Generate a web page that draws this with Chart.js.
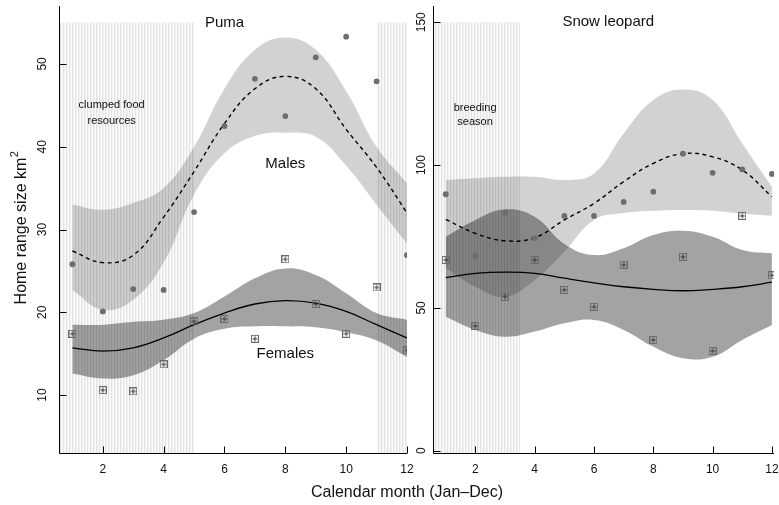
<!DOCTYPE html>
<html>
<head>
<meta charset="utf-8">
<script src="https://cdn.jsdelivr.net/npm/chart.js@4.4.1/dist/chart.umd.min.js"></script>
<style>
  html, body { margin: 0; padding: 0; background: #fff; }
  #wrap { position: relative; width: 779px; height: 505px; }
  #wrap canvas { position: absolute; left: 0; top: 0; }
</style>
</head>
<body>
<div id="wrap">
  <canvas id="puma" width="779" height="505"></canvas>
  <canvas id="snow" width="779" height="505"></canvas>
</div>
<script>
// ─── DATA ────────────────────────────────────────────────────
const months = [1, 2, 3, 4, 5, 6, 7, 8, 9, 10, 11, 12];
const xTicks = [2, 4, 6, 8, 10, 12];
const pumaYTicks = [10, 20, 30, 40, 50];
const snowYTicks = [0, 50, 100, 150];

// Puma
const pumaMalePts     = [25.8, 20.1, 22.8, 22.7, 32.1, 42.5, 48.2, 43.7, 50.8, 53.3, 47.9, 26.9];
const pumaFemalePts   = [17.4, 10.6, 10.45, 13.7, 18.9, 19.2, 16.8, 26.4, 21.0, 17.4, 23.0, 15.4];
const pumaMaleFit     = [27.4, 26.0, 26.9, 31.5, 37.0, 42.8, 47.0, 48.5, 47.0, 42.1, 37.5, 32.0];
const pumaMaleUpper   = [33.0, 32.4, 33.2, 35.0, 40.0, 47.0, 51.7, 53.2, 51.7, 46.7, 40.0, 35.6];
const pumaMaleLower   = [22.7, 20.3, 21.5, 26.0, 34.2, 39.2, 41.3, 41.7, 41.2, 37.7, 33.0, 28.3];
const pumaFemaleFit   = [15.7, 15.3, 15.7, 16.9, 18.5, 19.9, 21.0, 21.4, 21.1, 20.1, 18.5, 16.9];
const pumaFemaleUpper = [18.5, 18.5, 18.85, 19.1, 19.9, 21.9, 24.1, 25.3, 24.5, 22.3, 19.9, 19.1];
const pumaFemaleLower = [12.6, 12.0, 12.4, 14.2, 16.8, 18.0, 18.3, 18.3, 18.2, 17.6, 16.6, 14.6];
const pumaShaded      = [[0.56, 5], [11, 12]];   // clumped food resources

// Snow leopard
const snowMalePts     = [89.8, 68.2, 83.3, 74.4, 82.2, 82.2, 87.1, 90.7, 104.0, 97.3, 98.5, 96.9];
const snowFemalePts   = [66.8, 43.7, 53.9, 66.8, 56.3, 50.4, 65.1, 38.8, 67.9, 34.9, 82.2, 61.4];
const snowMaleFit     = [81.0, 76.1, 73.5, 74.6, 80.8, 86.6, 94.2, 100.6, 104.0, 102.9, 98.3, 88.9];
const snowMaleUpper   = [94.8, 95.4, 95.9, 95.9, 94.8, 97.1, 111.1, 122.8, 126.5, 122.8, 107.6, 92.4];
const snowMaleLower   = [64.0, 57.4, 53.9, 59.8, 69.7, 80.8, 83.2, 84.0, 84.3, 84.0, 83.0, 82.3];
const snowFemaleFit   = [60.6, 62.1, 62.5, 62.1, 60.4, 58.8, 57.4, 56.5, 56.0, 56.5, 57.4, 59.0];
const snowFemaleUpper = [74.9, 80.8, 84.5, 81.9, 72.4, 68.5, 70.9, 75.5, 77.0, 74.9, 70.3, 69.1];
const snowFemaleLower = [46.9, 42.3, 39.9, 41.7, 44.6, 45.8, 42.3, 36.4, 32.4, 32.9, 38.8, 44.0];
const snowShaded      = [[0.57, 3.5]];            // breeding season

// ─── HELPERS ─────────────────────────────────────────────────
const FONT = '"Liberation Sans", Arial, Helvetica, sans-serif';
const xy = vals => months.map((m, i) => ({ x: m, y: vals[i] }));

function hatchPattern() {
    const c = document.createElement('canvas');
    c.width = 3; c.height = 4;
    const g = c.getContext('2d');
    g.fillStyle = '#fbfbfb'; g.fillRect(0, 0, 3, 4);
    g.fillStyle = '#e2e2e2'; g.fillRect(0, 0, 1, 4);
    g.fillStyle = '#f3f3f3'; g.fillRect(1, 0, 1, 4);
    return g.createPattern(c, 'repeat');
}

function squarePlus() {
    const c = document.createElement('canvas');
    c.width = 8; c.height = 8;
    const g = c.getContext('2d');
    g.strokeStyle = '#6a6a6a'; g.lineWidth = 1;
    g.strokeRect(0.5, 0.5, 7, 7);
    g.strokeStyle = '#333';
    g.beginPath();
    g.moveTo(4, 1.5); g.lineTo(4, 6.5);
    g.moveTo(1.5, 4); g.lineTo(6.5, 4);
    g.stroke();
    return c;
}

const HATCH = hatchPattern();
const SQUARE = squarePlus();
const NONE = 'rgba(0,0,0,0)';
const CURVE = { tension: 0.42, cubicInterpolationMode: 'default' };

function buildDatasets(d, shaded, top) {
    const ds = [];
    shaded.forEach(([a, b]) => ds.push({
        data: [{ x: a, y: top }, { x: b, y: top }],
        fill: 'start', backgroundColor: HATCH,
        borderColor: NONE, borderWidth: 0, pointRadius: 0, order: 9
    }));
    const band = (up, lo, col) => {
        ds.push({ data: xy(up), fill: '+1', backgroundColor: col,
                  borderColor: NONE, borderWidth: 0, pointRadius: 0,
                  ...CURVE, order: 8 });
        ds.push({ data: xy(lo), fill: false,
                  borderColor: NONE, borderWidth: 0, pointRadius: 0,
                  ...CURVE, order: 8 });
    };
    band(d.maleUp, d.maleLo, 'rgba(0,0,0,0.175)');
    band(d.femUp, d.femLo, 'rgba(0,0,0,0.36)');
    ds.push({ data: xy(d.maleFit), borderColor: '#000', borderWidth: 1.4,
              borderDash: [4, 3.5], pointRadius: 0, fill: false,
              ...CURVE, order: 3 });
    ds.push({ data: xy(d.femFit), borderColor: '#000', borderWidth: 1.3,
              pointRadius: 0, fill: false, ...CURVE, order: 3 });
    ds.push({ type: 'scatter', data: xy(d.malePts), pointRadius: 2.9,
              backgroundColor: '#6c6c72', borderWidth: 0, order: 1 });
    ds.push({ type: 'scatter', data: xy(d.femPts), pointStyle: SQUARE,
              pointRadius: 4, order: 1 });
    return ds;
}

// axes, ticks, rotated tick labels, annotations
function framePlugin(o) {
    return {
        id: 'frame',
        afterDraw(chart) {
            const { ctx, chartArea: a, scales: { x, y } } = chart;
            const L = Math.round(a.left) + 0.5, B = Math.round(a.bottom) + 0.5;
            ctx.save();
            ctx.strokeStyle = '#000';
            ctx.lineWidth = 1;
            ctx.beginPath();
            ctx.moveTo(L, a.top); ctx.lineTo(L, B); ctx.lineTo(a.right, B);
            o.yTicks.forEach(v => {
                const py = Math.round(y.getPixelForValue(v)) + 0.5;
                ctx.moveTo(L, py); ctx.lineTo(L + 7, py);
            });
            xTicks.forEach(v => {
                const px = Math.round(x.getPixelForValue(v)) + 0.5;
                ctx.moveTo(px, B); ctx.lineTo(px, B - 7);
            });
            ctx.stroke();

            ctx.fillStyle = '#111';
            ctx.font = '12px ' + FONT;
            ctx.textAlign = 'center';
            ctx.textBaseline = 'middle';
            xTicks.forEach(v => ctx.fillText(String(v), x.getPixelForValue(v), B + 16));
            o.yTicks.forEach(v => {
                ctx.save();
                ctx.translate(L - o.yLabelGap, y.getPixelForValue(v));
                ctx.rotate(-Math.PI / 2);
                ctx.fillText(String(v), 0, 0);
                ctx.restore();
            });

            o.notes.forEach(n => {
                ctx.font = n.size + 'px ' + FONT;
                ctx.fillText(n.text, x.getPixelForValue(n.x), y.getPixelForValue(n.y));
            });

            if (o.titles) {
                ctx.font = '16px ' + FONT;
                ctx.fillText('Calendar month (Jan\u2013Dec)', 407, 493);
                // y title with superscript
                const main = 'Home range size km';
                const wMain = ctx.measureText(main).width;
                ctx.font = '11px ' + FONT;
                const wSup = ctx.measureText('2').width;
                ctx.save();
                ctx.translate(22, 228);
                ctx.rotate(-Math.PI / 2);
                ctx.textAlign = 'left';
                const x0 = -(wMain + wSup) / 2;
                ctx.font = '16px ' + FONT;
                ctx.fillText(main, x0, 0);
                ctx.font = '11px ' + FONT;
                ctx.fillText('2', x0 + wMain + 0.5, -7);
                ctx.restore();
            }
            ctx.restore();
        }
    };
}

function makePanel(id, d, shaded, top, sc, pad, frame) {
    return new Chart(document.getElementById(id), {
        type: 'line',
        data: { datasets: buildDatasets(d, shaded, top) },
        options: {
            responsive: false,
            animation: false,
            devicePixelRatio: 1,
            layout: { padding: pad },
            scales: {
                x: { type: 'linear', display: false, min: sc.xmin, max: sc.xmax },
                y: { type: 'linear', display: false, min: sc.ymin, max: sc.ymax }
            },
            plugins: { legend: { display: false }, tooltip: { enabled: false } }
        },
        plugins: [framePlugin(frame)]
    });
}

// ─── PANELS ──────────────────────────────────────────────────
makePanel('puma', {
    malePts: pumaMalePts, femPts: pumaFemalePts,
    maleFit: pumaMaleFit, maleUp: pumaMaleUpper, maleLo: pumaMaleLower,
    femFit: pumaFemaleFit, femUp: pumaFemaleUpper, femLo: pumaFemaleLower
}, pumaShaded, 55,
{ xmin: 0.56, xmax: 12, ymin: 3, ymax: 57 },
{ left: 59, right: 372, top: 6, bottom: 52 },
{
    yTicks: pumaYTicks, yLabelGap: 16.5, titles: true,
    notes: [
        { text: 'Puma', x: 6, y: 55, size: 15 },
        { text: 'Males', x: 8, y: 37.9, size: 15 },
        { text: 'Females', x: 8, y: 15.0, size: 15 },
        { text: 'clumped food', x: 2.29, y: 45.05, size: 11 },
        { text: 'resources', x: 2.29, y: 43.1, size: 11 }
    ]
});

makePanel('snow', {
    malePts: snowMalePts, femPts: snowFemalePts,
    maleFit: snowMaleFit, maleUp: snowMaleUpper, maleLo: snowMaleLower,
    femFit: snowFemaleFit, femUp: snowFemaleUpper, femLo: snowFemaleLower
}, snowShaded, 150,
{ xmin: 0.57, xmax: 12.07, ymin: -0.8, ymax: 155.7 },
{ left: 433, right: 4, top: 6, bottom: 52 },
{
    yTicks: snowYTicks, yLabelGap: 11.5, titles: false,
    notes: [
        { text: 'Snow leopard', x: 6.48, y: 150, size: 15 },
        { text: 'breeding', x: 1.99, y: 120, size: 11 },
        { text: 'season', x: 1.99, y: 115, size: 11 }
    ]
});
</script>
</body>
</html>
